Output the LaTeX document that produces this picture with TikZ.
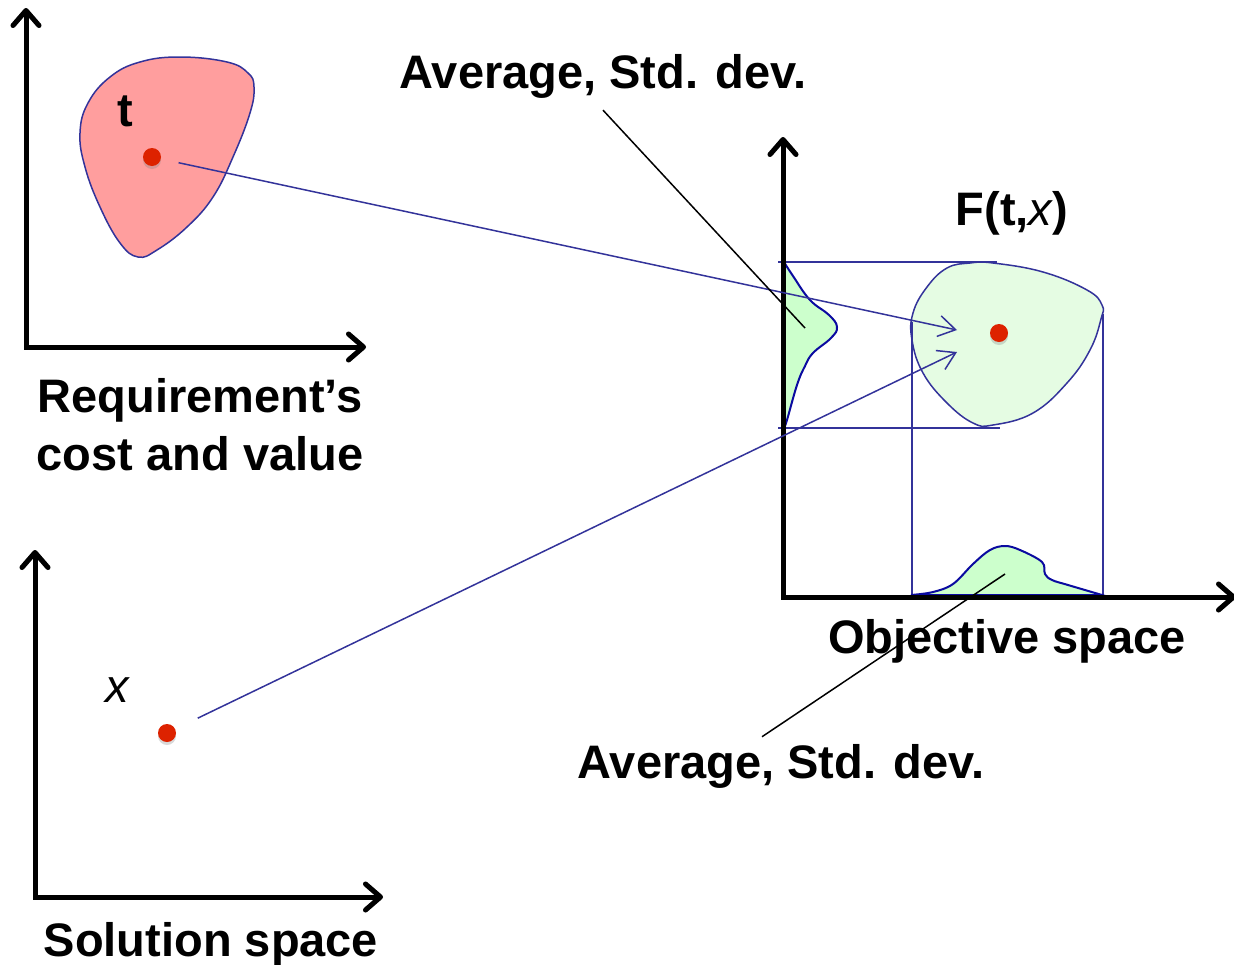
\documentclass[tikz,border=0pt]{standalone}
\usepackage{fontspec}
\setmainfont{Liberation Sans}
\usetikzlibrary{arrows.meta,calc,shadows}

\definecolor{navyline}{HTML}{33339A}
\definecolor{blobred}{HTML}{FF9E9E}
\definecolor{blobgreen}{HTML}{E5FCE3}
\definecolor{distgreen}{HTML}{CCFFCC}
\definecolor{distline}{HTML}{0A0AA0}
\definecolor{dotred}{HTML}{DD2200}

\begin{document}
\begin{tikzpicture}[
  x=1pt, y=-1pt,
  font=\fontsize{47}{58}\selectfont\bfseries,
  lbl/.style     ={anchor=base, inner sep=0pt},
  axis/.style    ={line width=5pt, line join=miter,
                   {Straight Barb[length=15pt,width=26pt,round]}-{Straight Barb[length=15pt,width=26pt,round]}},
  axshadow/.style={axis, draw=black!20, xshift=2pt, yshift=-3pt},
  blob/.style    ={draw=navyline, line width=1.5pt},
  dist/.style    ={draw=distline, line width=2pt, fill=distgreen},
  guide/.style   ={draw=navyline, line width=1.5pt},
  link/.style    ={navyline, line width=1.5pt, -{Straight Barb[length=17pt,width=21pt]}},
  pointer/.style ={black, line width=1.5pt},
  dot/.style     ={circle, fill=dotred, minimum size=18pt, inner sep=0pt,
                   drop shadow={shadow xshift=0pt, shadow yshift=-3pt, opacity=0.3}},
]
\useasboundingbox (0,0) rectangle (1234,964);

%% ---------------- regions ----------------
\draw[blob, fill=blobred] plot[smooth cycle, tension=0.7] coordinates {
  (180,57) (140,62) (110,77) (88,103) (80,133) (85,167) (100,207) (120,243)
  (138,257) (157,250) (187,227) (213,197) (233,157) (250,113) (254,87) (248,73) (227,62)};

\draw[blob, fill=blobgreen] plot[smooth cycle, tension=0.7] coordinates {
  (970,263) (993,263) (1043,272) (1087,290) (1102,305) (1101,319) (1090,350)
  (1067,383) (1033,413) (993,425) (973,423) (947,403) (923,373) (912,340)
  (913,313) (927,287) (947,268)};

%% ---------------- projections ----------------
\draw[guide] (778,262) -- (997,262);
\draw[guide] (778,428) -- (1000,428);
\draw[guide] (912,322) -- (912,597);
\draw[guide] (1103,314) -- (1103,597);

\draw[dist] plot[smooth, tension=0.7] coordinates {
  (784,262) (793,276) (810,300) (829,315) (837,327) (831,338) (813,353)
  (805,366) (797,385) (787,420) (784,428)} -- cycle;
\draw[dist] plot[smooth, tension=0.6] coordinates {
  (911,595) (933,592) (953,584) (973,564) (990,550) (1005,546) (1020,550)
  (1042,562) (1045,574) (1052,580) (1068,585) (1102,595)} -- cycle;

%% ---------------- axes ----------------
\coordinate (reqo) at (26,347);
\coordinate (reqy) at (26,8);
\coordinate (reqx) at (366,347);

\coordinate (solo) at (35,897);
\coordinate (soly) at (35,550);
\coordinate (solx) at (383,897);

\coordinate (objo) at (783,597);
\coordinate (objy) at (783,137);
\coordinate (objx) at (1236,597);

\foreach \ax in {req,sol,obj}{
  \draw[axshadow] (\ax y) -- (\ax o) -- (\ax x);
  \draw[axis] (\ax y) -- (\ax o) -- (\ax x);
}

%% ---------------- points ----------------
\node[dot] (tdot) at (152,157) {};
\node[dot] (xdot) at (167,733) {};
\node[dot] (fdot) at (999,333) {};

\coordinate (hit1) at (957,330);
\coordinate (hit2) at (957,352);
\draw[link, shorten <=18pt] (tdot) -- (hit1);
\draw[link, shorten <=25pt] (xdot) -- (hit2);

%% ---------------- labels ----------------
\node[lbl] (tlbl) at (125,126) {t};
\node[lbl, font=\fontsize{47}{58}\selectfont\mdseries\itshape] (xlbl) at (117,702) {x};
\node[lbl] (ftx) at (1012,225) {F(t,{\mdseries\itshape x})};
\node[align=center, inner sep=0pt] (reqlbl) at (200,425) {Requirement’s\\cost and value};
\node[lbl] (sollbl) at (211,956) {Solution space};
\node[lbl] (objlbl) at (1007,653) {Objective space};
\node[lbl] (avgtop) at (603,88) {Average, Std. dev.};
\node[lbl] (avgbot) at (781,778) {Average, Std. dev.};

\coordinate (peakleft) at (805,328);
\coordinate (peakbot) at (1005,574);
\draw[pointer] ([yshift=-12pt]avgtop.south) -- (peakleft);
\draw[pointer] (peakbot) -- ([shift={(-19pt,7pt)}]avgbot.north);

\end{tikzpicture}
\end{document}
